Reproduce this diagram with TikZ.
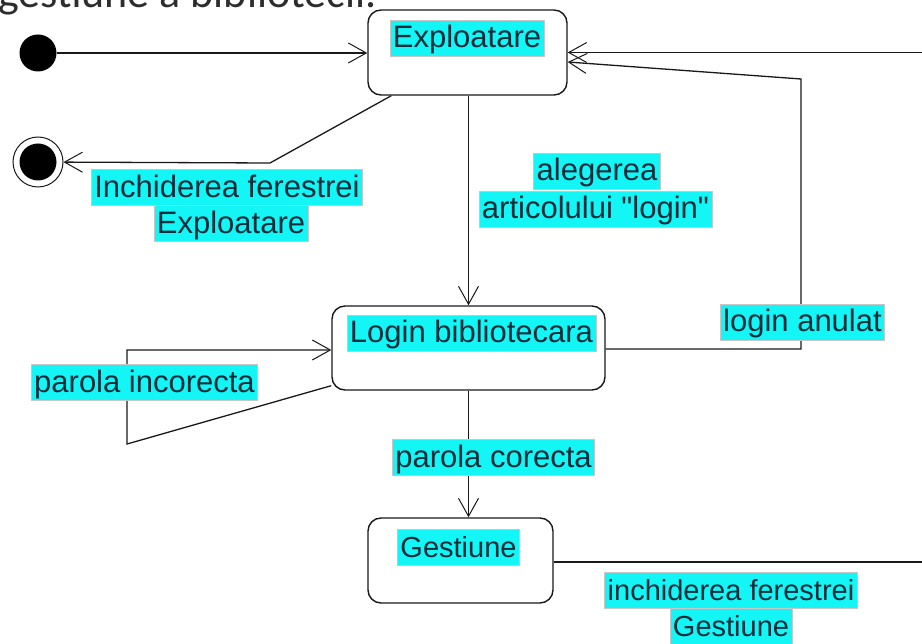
\documentclass[tikz,border=0pt]{standalone}
\usepackage{fontspec}
\setmainfont{Liberation Sans}[Ligatures=TeXOff]
\newfontfamily\titlefont{Carlito}
\usetikzlibrary{arrows.meta,calc}
\definecolor{lblcyan}{RGB}{20,245,245}
\definecolor{ink}{RGB}{25,25,25}
\definecolor{lbltext}{RGB}{10,45,60}
\definecolor{titlegray}{RGB}{45,45,45}
\begin{document}
\begin{tikzpicture}[x=1pt,y=-1pt,
  conn/.style={draw=ink, line width=1.3pt},
  arr/.style={conn, -{Straight Barb[length=18pt,width=20pt,line width=1pt]}},
  statebox/.style={draw=ink, line width=1.4pt, rounded corners=13pt,
    minimum width=#1, minimum height=85pt, inner sep=0pt},
  tag/.style={fill=lblcyan, draw=gray!45, line width=0.6pt, text=lbltext,
    font=\fontsize{31}{33}\selectfont, inner xsep=3pt, inner ysep=1pt,
    text height=27pt, text depth=7pt},
  smalltag/.style={tag, font=\fontsize{29}{31}\selectfont},
  dot/.style={circle, fill=black, minimum size=37pt, inner sep=0pt},
]
\useasboundingbox (0,0) rectangle (922,644);
\clip (0,0) rectangle (922,644);

% heading, partly above the page
\node[anchor=base west, font=\titlefont\fontsize{44}{44}\selectfont,
  text=titlegray, inner sep=0pt] (title) at (-2,8) {gestiune a bibliotecii.};

% initial and final pseudo-states
\node[dot] (init) at (38,53) {};
\node[circle, draw=ink, line width=1pt, minimum size=50pt, inner sep=0pt] (fin) at (38,162) {};
\node[dot] (finc) at (fin) {};

% states
\node[statebox=199pt] (expl) at (467.5,52.5) {};
\node[tag] (explT) at (467,38) {Exploatare};
\node[statebox=273pt, minimum height=84pt] (login) at (468.5,348) {};
\node[tag] (loginT) at (471.5,333) {Login bibliotecara};
\node[statebox=185pt] (gest) at (460.5,560.5) {};
\node[smalltag] (gestT) at (458.5,547.5) {Gestiune};

% bend points
\coordinate (k1) at (270,163);
\coordinate (k2) at (801,349);
\coordinate (k3) at (801,79);
\coordinate (k5) at (940,562);
\coordinate (k6) at (940,52.5);
\coordinate (k7) at (127,350);
\coordinate (k8) at (127,444);

% transitions
\draw[arr] (init) -- (init -| expl.west);
\draw[arr] ($(expl.south west)+(24,0)$) -- (k1) -- (fin);
\draw[arr] (expl.south -| login.north) -- (login.north);
\draw[arr] (login.east |- k2) -- (k2) -- (k3) -- ($(expl.east)+(0,9.5)$);
\draw[arr] (gest.east |- k5) -- (k5) -- (k6) -- (expl.east);
\draw[arr] ($(login.south west)+(0,-5)$) -- (k8) -- (k7) -- (k7 -| login.west);
\draw[arr] (login.south) -- (login.south |- gest.north);

% transition labels
\node[tag] (l1a) at (227,187.5) {Inchiderea ferestrei\ };
\node[tag] (l1b) at (231,223.5) {Exploatare};
\node[tag] (l2a) at (597,171) {alegerea\ };
\node[tag] (l2b) at (595.5,209) {articolului "login"};
\node[tag] (l3) at (802.5,322) {login anulat};
\node[tag] (l4) at (144.5,382.5) {parola incorecta};
\node[tag] (l5) at (493.5,457.5) {parola corecta};
\node[smalltag] (l6a) at (731,590) {inchiderea ferestrei\ };
\node[smalltag] (l6b) at (731,626.5) {Gestiune};
\end{tikzpicture}
\end{document}
